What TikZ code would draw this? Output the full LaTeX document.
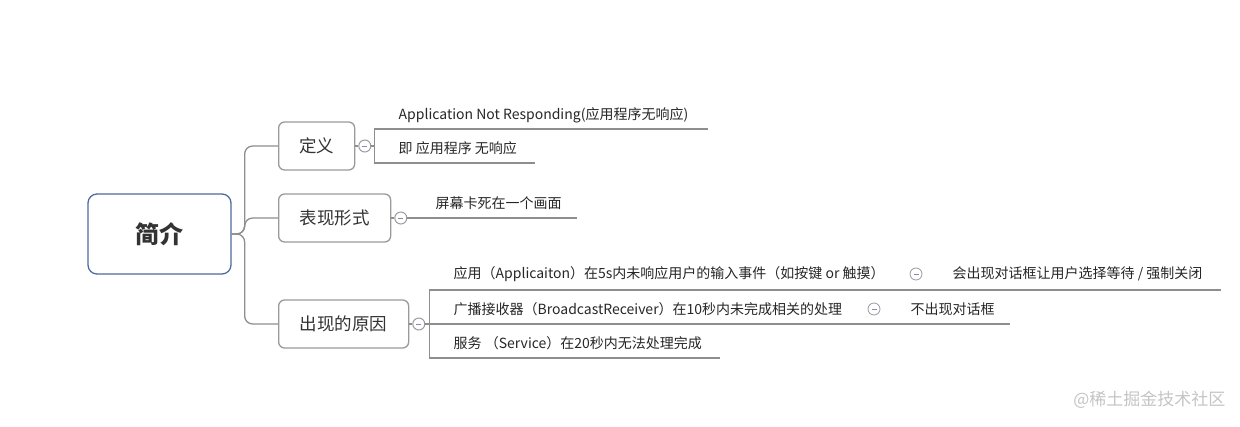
\documentclass[tikz,border=0pt]{standalone}
\usepackage{fontspec}
\setmainfont{Noto Sans CJK SC}
\usetikzlibrary{positioning}
\definecolor{boxgray}{HTML}{9A9A9A}
\definecolor{linegray}{HTML}{8E8E8E}
\definecolor{rootblue}{HTML}{4F6A9E}
\definecolor{inkgray}{HTML}{333333}
\definecolor{minusblue}{HTML}{7A8CC0}
\definecolor{markgray}{HTML}{C4C4C4}
\newcommand\foldmark{\textcolor{minusblue}{\rule{5pt}{1pt}}}

\begin{document}
\begin{tikzpicture}[x=1pt,y=-1pt,line width=1.3pt,draw=linegray,
 node distance=3pt]
 \tikzstyle{every node}=[inner sep=0pt,text=inkgray]
 \tikzstyle{root}=[draw=rootblue,rounded corners=9pt,minimum width=143pt,
 minimum height=80pt,font=\fontsize{24}{28}\selectfont\bfseries]
 \tikzstyle{topic}=[draw=boxgray,rounded corners=6pt,minimum height=48pt,
 anchor=west,font=\fontsize{17.5}{20}\selectfont]
 \tikzstyle{fold}=[circle,draw=boxgray,line width=1pt,fill=white,minimum size=12pt]
 \tikzstyle{leaf}=[anchor=west,font=\fontsize{14}{16}\selectfont,text=black!85]
 \useasboundingbox (0,0) rectangle (1240,426);

 \node[root] (intro) at (159.5,234) {简介};
 \node[topic,minimum width=76pt]  (def)  at (278,146) {定义};
 \node[topic,minimum width=112pt] (show) at (278,218) {表现形式};
 \node[topic,minimum width=130pt] (why)  at (278,324) {出现的原因};

 \node[fold,right=of def]  (deffold)  {\foldmark};
 \node[fold,right=of show] (showfold) {\foldmark};
 \node[fold,right=of why]  (whyfold)  {\foldmark};

 \draw[rounded corners=8pt] (intro.east) -- ++(13,0) |- (def.west);
 \draw[rounded corners=8pt] (intro.east) -- ++(13,0) |- (show.west);
 \draw[rounded corners=8pt] (intro.east) -- ++(13,0) |- (why.west);
 \draw (def.east) -- (deffold.west);
 \draw (show.east) -- (showfold.west);
 \draw (why.east) -- (whyfold.west);

 % definition
 \node[leaf] (defA) at (398,115) {Application Not Responding(应用程序无响应)};
 \node[leaf] (defB) at (398,148) {即 应用程序 无响应};
 \coordinate (defAend) at (708,129);
 \coordinate (defBend) at (535,163);
 \draw (deffold.east) -- ++(3,0) coordinate (defbr);
 \draw (defbr) |- (defAend);
 \draw (defbr) |- (defBend);

 % symptom
 \node[leaf] (showA) at (435,203) {屏幕卡死在一个画面};
 \coordinate (showAend) at (577,218);
 \draw (showfold.east) -- (showAend);

 % causes
 \node[leaf] (whyA) at (453,274) {应用（Applicaiton）在5s内未响应用户的输入事件（如按键 or 触摸）};
 \node[leaf] (whyB) at (453,309) {广播接收器（BroadcastReceiver）在10秒内未完成相关的处理};
 \node[leaf] (whyC) at (453,343) {服务 （Service）在20秒内无法处理完成};
 \node[fold,line width=0.8pt] (whyAfold) at (916,274) {\foldmark};
 \node[fold,line width=0.8pt] (whyBfold) at (874,309) {\foldmark};
 \node[leaf] (whyAsub) at (952,274) {会出现对话框让用户选择等待 / 强制关闭};
 \node[leaf] (whyBsub) at (910,309) {不出现对话框};
 \coordinate (whyAend) at (1221,290);
 \coordinate (whyBend) at (1010,324);
 \coordinate (whyCend) at (720,358);
 \draw (whyfold.east) -- ++(4,0) coordinate (whybr);
 \draw (whybr) |- (whyAend);
 \draw (whybr) |- (whyBend);
 \draw (whybr) |- (whyCend);

 \node[anchor=east,font=\fontsize{17}{20}\selectfont,text=markgray] (mark)
 at (1226,400) {@稀土掘金技术社区};
\end{tikzpicture}
\end{document}
